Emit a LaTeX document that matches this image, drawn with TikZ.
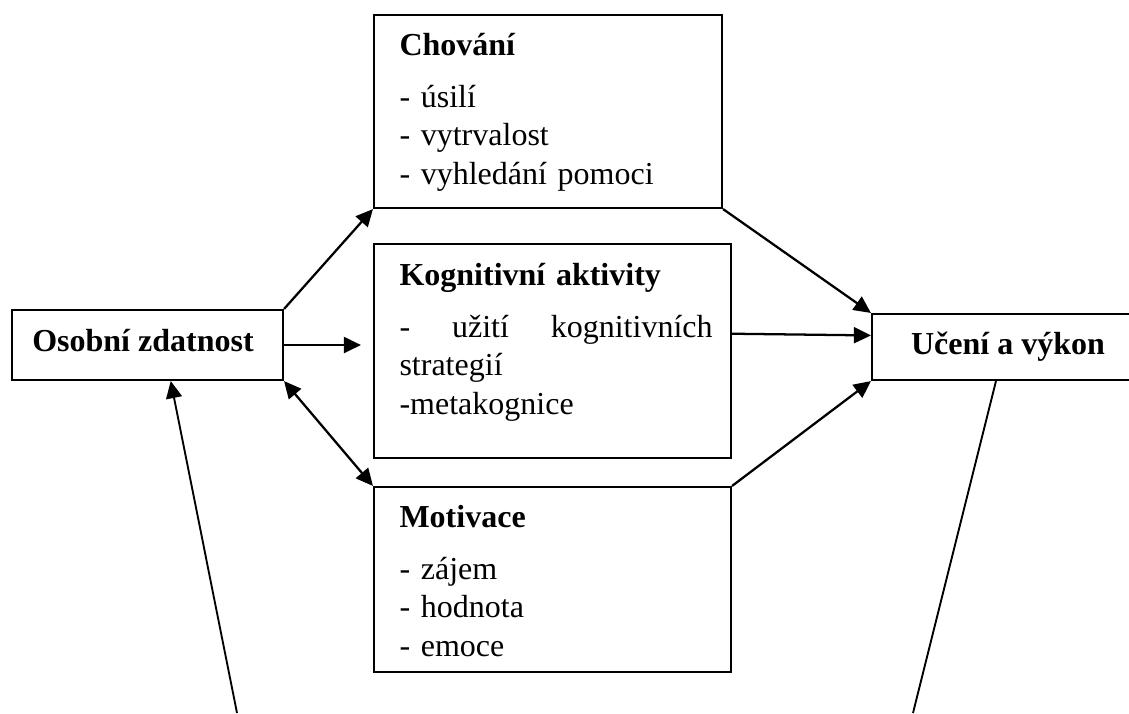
\documentclass[12pt,tikz,border=0pt]{standalone}
\usepackage{fontspec}
\setmainfont{Liberation Serif}
\usetikzlibrary{arrows.meta,fit,calc}

\begin{document}
\begin{tikzpicture}[x=0.375pt, y=-0.375pt,
    box/.style={draw, line width=0.8pt, inner sep=0pt},
    head/.style={anchor=base, inner sep=0pt, font=\bfseries},
    txt/.style={anchor=base west, inner sep=0pt, align=left, text width=117.4pt},
    tip/.tip={Triangle[length=6.4pt,width=6pt]},
    arr/.style={line width=0.85pt, -tip}]
    \clip (0,0) rectangle (1129,713);
    \node[box, fit={(12,310) (283,380)}] (osob) {};
    \node[box, fit={(872,314) (1144,380)}] (ucen) {};
    \node[box, fit={(374,15) (722,208)}] (chov) {};
    \node[box, fit={(374,244) (731,458)}] (kogn) {};
    \node[box, fit={(374,487) (731,672)}] (moti) {};
    \node[head] (osobt) at (143,351) {Osobní zdatnost};
    \node[head] (ucent) at (1008,354) {Učení a výkon};
    \node[txt] (chovt) at (399,55) {\textbf{Chování}\\[5pt] - úsilí\\ - vytrvalost\\ - vyhledání pomoci};
    \node[txt] (kognt) at (399,285) {\textbf{Kognitivní aktivity}\\[5pt] -\hfill užití\hfill kognitivních\\ strategií\\ -metakognice};
    \node[txt] (motit) at (399,527) {\textbf{Motivace}\\[5pt] - zájem\\ - hodnota\\ - emoce};
    \coordinate (lfoot) at (237,713);
    \coordinate (rfoot) at (913,713);
    \draw[arr] (osob.north east) -- (chov.south west);
    \draw[arr, shorten >=4.5pt] (osob.east) -- (osob.east -| kogn.west);
    \draw[arr, tip-tip] (osob.south east) -- (moti.north west);
    \draw[arr] (chov.south east) -- (ucen.north west);
    \draw[arr] ($(kogn.north east)!0.42!(kogn.south east)$) -- ($(ucen.north west)!0.33!(ucen.south west)$);
    \draw[arr] (moti.north east) -- (ucen.south west);
    \draw[arr, line width=0.7pt] (lfoot) -- ($(osob.south west)!0.585!(osob.south east)$);
    \draw[line width=0.7pt] (rfoot) -- ($(ucen.south west)!0.456!(ucen.south east)$);
\end{tikzpicture}
\end{document}
